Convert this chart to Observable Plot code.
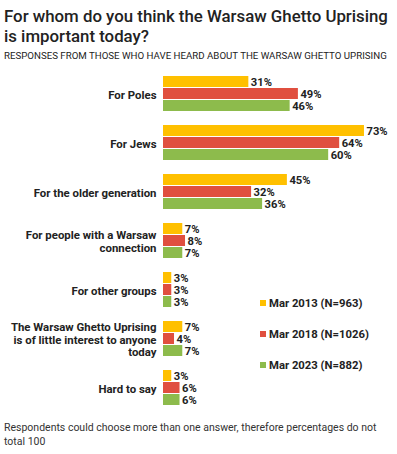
<!DOCTYPE html>
<html>
<head>
<meta charset="utf-8">
<script src="https://cdn.jsdelivr.net/npm/d3@7"></script>
<script src="https://cdn.jsdelivr.net/npm/@observablehq/plot@0.6"></script>
<style>
  html, body { margin: 0; padding: 0; background: #fff; }
  body { width: 397px; height: 454px; position: relative; overflow: hidden; font-family: Roboto, "Noto Sans", sans-serif; color: #222; }
  #title { position: absolute; left: 4px; top: 6px; font-size: 17.6px; line-height: 20px; font-weight: 500; color: #222; white-space: nowrap; }
  #subtitle { position: absolute; left: 4px; top: 50px; font-size: 9.7px; color: #222; white-space: nowrap; }
  #chart { position: absolute; left: 0; top: 62px; }
  #legend { position: absolute; left: 260px; top: 296px; font-size: 11.3px; font-weight: bold; color: #222; }
  #legend .item { display: flex; align-items: center; height: 14px; margin-bottom: 17px; }
  #legend .sw { width: 6px; height: 6px; margin-right: 3px; }
  #caption { position: absolute; left: 4px; top: 421px; width: 392px; font-size: 10.5px; line-height: 14px; color: #333; }
  svg text { font-weight: bold; }
</style>
</head>
<body>
<div id="title"><span id="t1">For whom do you think the Warsaw Ghetto Uprising</span><br><span>is important today?</span></div>
<div id="subtitle">RESPONSES FROM THOSE WHO HAVE HEARD ABOUT THE WARSAW GHETTO UPRISING</div>
<div id="chart"></div>
<div id="legend"></div>
<div id="caption">Respondents could choose more than one answer, therefore percentages do not total 100</div>
<script>
const categories = [
  "For Poles",
  "For Jews",
  "For the older generation",
  "For people with a Warsaw\nconnection",
  "For other groups",
  "The Warsaw Ghetto Uprising\nis of little interest to anyone\ntoday",
  "Hard to say"
];
const series = ["Mar 2013 (N=963)", "Mar 2018 (N=1026)", "Mar 2023 (N=882)"];
const colors = ["#FFC000", "#E04F3F", "#8DBB4C"];
const values2013 = [31, 73, 45, 7, 3, 7, 3];
const values2018 = [49, 64, 32, 8, 3, 4, 6];
const values2023 = [46, 60, 36, 7, 3, 7, 6];

// fit the title's first line to the reference width
const t1 = document.getElementById("t1");
const titleDiv = document.getElementById("title");
const w = t1.getBoundingClientRect().width;
if (w > 0) titleDiv.style.fontSize = (17.6 * 384 / w) + "px";

const valuesBySeries = [values2013, values2018, values2023];
const data = [];
categories.forEach((c, i) => {
  series.forEach((s, j) => {
    data.push({category: c, series: s, value: valuesBySeries[j][i]});
  });
});

const chart = Plot.plot({
  width: 397,
  height: 354,
  marginLeft: 163,
  marginRight: 0,
  marginTop: 12,
  marginBottom: 7.5,
  style: {fontFamily: "Roboto, 'Noto Sans', sans-serif", fontSize: "11px", color: "#222", background: "#fff"},
  x: {domain: [0, 85], axis: null},
  y: {domain: series, axis: null, paddingInner: 0.08, paddingOuter: 0},
  fy: {domain: categories, paddingInner: 0.275, paddingOuter: 0, axis: null, label: null},
  color: {domain: series, range: colors},
  facet: {data: data, y: "category"},
  marks: [
    Plot.axisFy({anchor: "left", label: null, tickSize: 0, tickPadding: 7, lineHeight: 1.12, fontSize: 11.4, fontWeight: "bold", fill: "#222"}),
    Plot.barX(data, {x: "value", y: "series", fill: "series"}),
    Plot.text(data, {x: "value", y: "series", text: d => d.value + "%", textAnchor: "start", dx: 2, fill: "#222", fontSize: 11.2, fontWeight: "bold"})
  ]
});
document.getElementById("chart").appendChild(chart);

const legend = document.getElementById("legend");
series.forEach((s, j) => {
  const item = document.createElement("div");
  item.className = "item";
  const sw = document.createElement("div");
  sw.className = "sw";
  sw.style.background = colors[j];
  const label = document.createElement("span");
  label.textContent = s;
  item.appendChild(sw);
  item.appendChild(label);
  legend.appendChild(item);
});
</script>
</body>
</html>
